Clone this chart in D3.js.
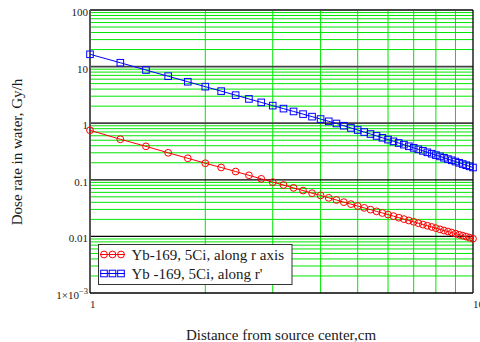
<!DOCTYPE html>
<html>
<head>
<meta charset="utf-8">
<script src="https://cdn.jsdelivr.net/npm/d3@7"></script>
<style>
  body { margin: 0; background: #fff; }
  svg { display: block; }
  text { font-family: "Liberation Serif", "Times New Roman", serif; fill: #1a1a1a; }
</style>
</head>
<body>
<svg id="chart" width="480" height="342"></svg>
<script>
// Distance from the source centre (cm)
const distances = [1.0, 1.2, 1.4, 1.6, 1.8, 2.0, 2.2, 2.4, 2.6, 2.8,
  3.0, 3.2, 3.4, 3.6, 3.8, 4.0, 4.2, 4.4, 4.6, 4.8,
  5.0, 5.2, 5.4, 5.6, 5.8, 6.0, 6.2, 6.4, 6.6, 6.8,
  7.0, 7.2, 7.4, 7.6, 7.8, 8.0, 8.2, 8.4, 8.6, 8.8,
  9.0, 9.2, 9.4, 9.6, 9.8, 10.0];

// Dose rate in water (Gy/h), Yb-169 5Ci source, along the r axis
const doseAlongR = [0.75, 0.52, 0.39, 0.30, 0.24, 0.196, 0.165, 0.140, 0.120, 0.104,
  0.091, 0.081, 0.072, 0.0645, 0.058, 0.053, 0.048, 0.044, 0.0403, 0.0372,
  0.0344, 0.0319, 0.0297, 0.0277, 0.0259, 0.0243, 0.0228, 0.0214, 0.0202, 0.0191,
  0.0181, 0.0171, 0.0162, 0.0154, 0.0147, 0.0140, 0.0133, 0.0127, 0.0122, 0.0117,
  0.0112, 0.0107, 0.0103, 0.0099, 0.0095, 0.0091];

// Dose rate in water (Gy/h), Yb-169 5Ci source, along r'
const doseAlongRPrime = [16.5, 11.7, 8.7, 6.76, 5.40, 4.42, 3.69, 3.13, 2.685, 2.333,
  2.046, 1.811, 1.613, 1.447, 1.306, 1.184, 1.080, 0.988, 0.903, 0.826,
  0.758, 0.698, 0.644, 0.596, 0.553, 0.513, 0.478, 0.447, 0.418, 0.391,
  0.367, 0.345, 0.325, 0.306, 0.289, 0.273, 0.259, 0.245, 0.232, 0.221,
  0.210, 0.1995, 0.190, 0.181, 0.173, 0.165];

const seriesNames = ["Yb-169, 5Ci, along r axis", "Yb -169, 5Ci, along r'"];
const yDecades = [100, 10, 1, 0.1, 0.01, 0.001];
const yDecadeLabels = ["100", "10", "1", "0.1", "0.01", null];
const xTicks = [1, 10];
const xTickLabels = ["1", "10"];
const xTitle = "Distance from source center,cm";
const yTitle = "Dose rate in water, Gy/h";

const svg = d3.select("#chart");
const plotL = 90, plotR = 473, plotT = 10, plotB = 293;

const x = d3.scaleLog().domain([1, 10]).range([plotL, plotR]);
const y = d3.scaleLog().domain([0.001, 100]).range([plotB, plotT]);

// minor grid values (2..9 within each decade)
const yMinor = [];
for (let e = -3; e < 2; e++) for (let m = 2; m <= 9; m++) yMinor.push(m * Math.pow(10, e));
const xMinor = [2, 3, 4, 5, 6, 7, 8, 9];

const grid = svg.append("g");
grid.selectAll("line.hm").data(yMinor).join("line")
  .attr("x1", plotL).attr("x2", plotR)
  .attr("y1", d => y(d)).attr("y2", d => y(d))
  .attr("stroke", "#00e600").attr("stroke-width", 1);
grid.selectAll("line.vm").data(xMinor).join("line")
  .attr("y1", plotT).attr("y2", plotB)
  .attr("x1", d => x(d)).attr("x2", d => x(d))
  .attr("stroke", "#00e600").attr("stroke-width", 1);

// decade lines
grid.selectAll("line.maj").data(yDecades.slice(1, 5)).join("line")
  .attr("x1", plotL).attr("x2", plotR)
  .attr("y1", d => y(d)).attr("y2", d => y(d))
  .attr("stroke", (d, i) => i < 2 ? "#444" : "#000")
  .attr("stroke-width", (d, i) => i < 2 ? 1.8 : 1.2);

// frame
svg.append("line").attr("x1", plotL).attr("x2", plotR).attr("y1", plotT).attr("y2", plotT)
  .attr("stroke", "#444").attr("stroke-width", 2);
svg.append("line").attr("x1", plotL).attr("x2", plotL).attr("y1", plotT).attr("y2", plotB)
  .attr("stroke", "#555").attr("stroke-width", 2);
svg.append("line").attr("x1", plotR).attr("x2", plotR).attr("y1", plotT).attr("y2", plotB)
  .attr("stroke", "#000").attr("stroke-width", 1.3);
svg.append("line").attr("x1", plotL).attr("x2", plotR).attr("y1", plotB).attr("y2", plotB)
  .attr("stroke", "#000").attr("stroke-width", 1.3);

// y tick labels
const yl = svg.append("g").attr("font-size", 11).attr("text-anchor", "end");
yDecades.forEach((d, i) => {
  const t = yl.append("text").attr("x", 88).attr("y", y(d) + 6);
  if (yDecadeLabels[i] !== null) {
    t.text(yDecadeLabels[i]);
  } else {
    t.append("tspan").text("1\u00d710");
    t.append("tspan").attr("font-size", 8.5).attr("dy", -5).text("\u22123");
  }
});

// x tick labels
svg.append("g").attr("font-size", 11).selectAll("text").data(xTicks).join("text")
  .attr("x", d => x(d)).attr("y", 307.5)
  .text((d, i) => xTickLabels[i]);

// axis titles
svg.append("text").attr("x", 281).attr("y", 339.5).attr("text-anchor", "middle")
  .attr("font-size", 15).text(xTitle);
svg.append("text").attr("transform", "translate(21.5,152) rotate(-90)")
  .attr("text-anchor", "middle").attr("font-size", 15).text(yTitle);

// series
const series = [
  { values: doseAlongR, color: "#ff0000", marker: "circle" },
  { values: doseAlongRPrime, color: "#0000ff", marker: "square" }
];
const line = d3.line().x(d => x(d[0])).y(d => y(d[1]));

function drawMarker(g, mx, my, kind, color) {
  if (kind === "circle") {
    g.append("circle").attr("cx", mx).attr("cy", my).attr("r", 3.4)
      .attr("fill", "none").attr("stroke", color).attr("stroke-width", 1);
  } else {
    g.append("rect").attr("x", mx - 3.3).attr("y", my - 3.3)
      .attr("width", 6.6).attr("height", 6.6)
      .attr("fill", "none").attr("stroke", color).attr("stroke-width", 1);
  }
}

series.forEach(s => {
  const pts = distances.map((d, i) => [d, s.values[i]]);
  const g = svg.append("g");
  g.append("path").attr("d", line(pts)).attr("fill", "none")
    .attr("stroke", s.color).attr("stroke-width", 1);
  pts.forEach(p => drawMarker(g, x(p[0]), y(p[1]), s.marker, s.color));
});

// legend
const lg = svg.append("g");
lg.append("rect").attr("x", 98.5).attr("y", 244.5).attr("width", 193.5).attr("height", 40)
  .attr("fill", "#fff").attr("stroke", "#333").attr("stroke-width", 1);
series.forEach((s, i) => {
  const ly = 254.5 + i * 19;
  lg.append("line").attr("x1", 100).attr("x2", 125).attr("y1", ly).attr("y2", ly)
    .attr("stroke", s.color).attr("stroke-width", 1);
  [104, 112.5, 121].forEach(mx => drawMarker(lg, mx, ly, s.marker, s.color));
  lg.append("text").attr("x", 131.5).attr("y", ly + 5).attr("font-size", 15).text(seriesNames[i]);
});
</script>
</body>
</html>
